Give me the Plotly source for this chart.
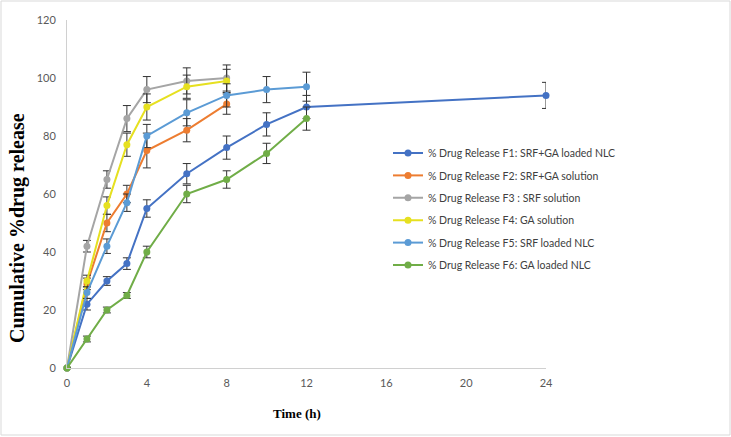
import plotly.graph_objects as go

time_f1 = [0, 1, 2, 3, 4, 6, 8, 10, 12, 24]
f1 = [0, 22, 30, 36, 55, 67, 76, 84, 90, 94]
f1_err = [0, 2, 1.5, 2, 3, 3.5, 4, 4, 4, 4.5]

time_8 = [0, 1, 2, 3, 4, 6, 8]
f2 = [0, 29, 50, 60, 75, 82, 91]
f2_err = [0, 2, 3, 3, 6, 4, 3.5]
f3 = [0, 42, 65, 86, 96, 99, 100]
f3_err = [0, 2, 3, 4.5, 4.5, 4.5, 4.5]
f4 = [0, 30, 56, 77, 90, 97, 99]
f4_err = [0, 2, 3, 4, 4.5, 4, 4]

time_12 = [0, 1, 2, 3, 4, 6, 8, 10, 12]
f5 = [0, 26, 42, 57, 80, 88, 94, 96, 97]
f5_err = [0, 2, 2.5, 3, 4, 4.5, 4, 4.5, 5]
f6 = [0, 10, 20, 25, 40, 60, 65, 74, 86]
f6_err = [0, 1, 1, 1, 2, 3, 3, 3.5, 4]

names = [
    "% Drug Release F1: SRF+GA loaded NLC",
    "% Drug Release F2: SRF+GA solution",
    "% Drug Release F3 : SRF solution",
    "% Drug Release F4: GA solution",
    "% Drug Release F5: SRF loaded NLC",
    "% Drug Release F6: GA loaded NLC",
]
x_title = "Time (h)"
y_title = "Cumulative %drug release"
colors = ["#4472C4", "#ED7D31", "#A5A5A5", "#E6E020", "#5B9BD5", "#70AD47"]
series = [
    (time_f1, f1, f1_err),
    (time_8, f2, f2_err),
    (time_8, f3, f3_err),
    (time_8, f4, f4_err),
    (time_12, f5, f5_err),
    (time_12, f6, f6_err),
]

L, R, T, B = 67, 185, 20, 69
pw, ph = 731 - L - R, 437 - T - B


def px(xp):
    return (xp - L) / pw


def py(yp):
    return (T + ph - yp) / ph


fig = go.Figure()
legend_layout = {}
for i, ((x, y, e), n, c) in enumerate(zip(series, names, colors)):
    lg = "legend" if i == 0 else f"legend{i + 1}"
    fig.add_trace(go.Scatter(
        x=x, y=y, name=n, mode="lines+markers", cliponaxis=False, legend=lg,
        line=dict(color=c, width=2),
        marker=dict(color=c, size=7, symbol="circle"),
        error_y=dict(type="data", array=e, visible=True, color="#333333", thickness=1, width=4),
    ))
    legend_layout[lg] = dict(
        x=px(388), y=py(153 + i * 22.4), xanchor="left", yanchor="middle",
        bgcolor="rgba(0,0,0,0)",
        font=dict(family="Lato", size=10.5, color="#404040"),
    )

fig.update_layout(
    width=731, height=437,
    margin=dict(l=L, r=R, t=T, b=B, autoexpand=False),
    paper_bgcolor="white", plot_bgcolor="white",
    font=dict(family="Lato", size=11, color="#595959"),
    showlegend=True,
    xaxis=dict(range=[0, 24], tickvals=[0, 4, 8, 12, 16, 20, 24], showgrid=False, zeroline=False,
               showline=True, linecolor="#D0D0D0", linewidth=1, ticks="", automargin=False,
               ticklabelstandoff=5, tickfont=dict(color="#595959", size=11)),
    yaxis=dict(range=[0, 120], tickvals=[0, 20, 40, 60, 80, 100, 120], showgrid=False, zeroline=False,
               showline=True, linecolor="#D0D0D0", linewidth=1, ticks="", automargin=False,
               ticklabelstandoff=8, tickfont=dict(color="#595959", size=11)),
    annotations=[
        dict(text=f"<b>{x_title}</b>", xref="paper", yref="paper", x=px(297), y=py(413),
             xanchor="center", yanchor="middle", showarrow=False,
             font=dict(family="Liberation Serif", size=13, color="#000000")),
        dict(text=f"<b>{y_title}</b>", xref="paper", yref="paper", x=px(18), y=py(228),
             xanchor="center", yanchor="middle", showarrow=False, textangle=-90,
             font=dict(family="Liberation Serif", size=20, color="#000000")),
    ],
    shapes=[dict(type="rect", xref="paper", yref="paper",
                 x0=px(1), x1=px(730), y0=py(435), y1=py(1),
                 line=dict(color="#D9D9D9", width=1))],
    **legend_layout,
)
fig.write_html("out.html", config={"displayModeBar": False},
               post_script="document.body.style.margin='0';")
